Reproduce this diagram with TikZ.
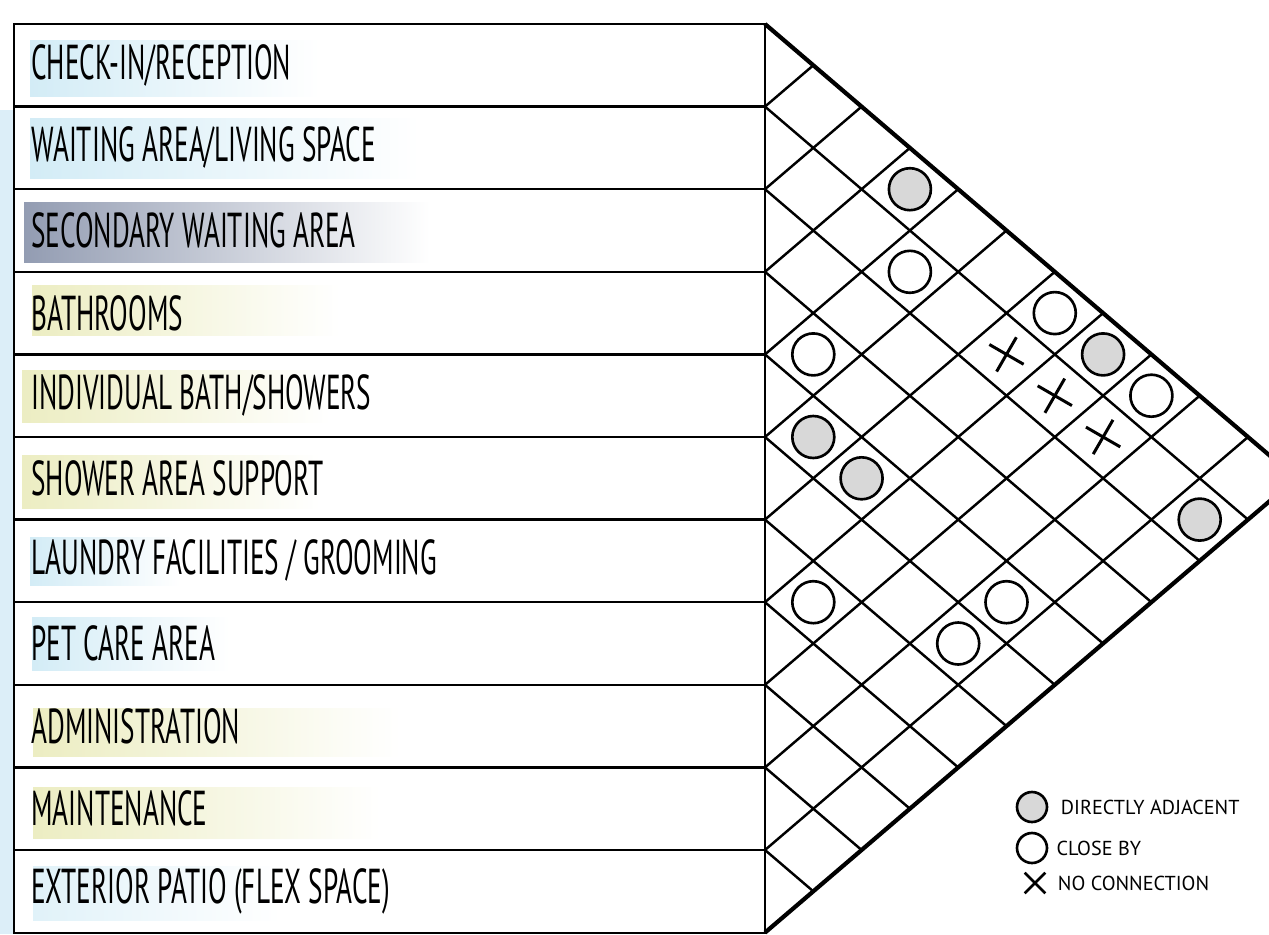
\documentclass[tikz,border=0pt]{standalone}
\usepackage{fontspec}
\setmainfont{PT Sans}
\usepackage{graphicx}
\usepackage{xcolor}
\usepackage{tikz}
\usetikzlibrary{positioning, shapes.misc, calc}
\definecolor{washblue}{HTML}{D3ECF6}
\definecolor{washslate}{HTML}{8D97AE}
\definecolor{washyellow}{HTML}{ECEDC2}
\definecolor{sideblue}{HTML}{DCEEF8}
\definecolor{dotgray}{HTML}{D8D8D8}
\newcommand{\roomname}[1]{\scalebox{1}[1.8]{#1}}

\tikzset{
  rule/.style={line width=1.4pt},
  gridline/.style={line width=1.4pt},
  edgeline/.style={line width=2.4pt},
  roomlabel/.style={anchor=west, inner sep=0pt, font=\fontsize{15.5}{18}\selectfont},
  adjacent/.style={circle, draw, line width=1.5pt, fill=dotgray, minimum size=0.84cm, inner sep=0pt},
  closeby/.style={circle, draw, line width=1.5pt, fill=white, minimum size=0.84cm, inner sep=0pt},
  noconn/.style={cross out, draw, line width=1.7pt, minimum size=0.5cm, inner sep=0pt, rotate=15},
  keytext/.style={inner sep=0pt, font=\fontsize{11.5}{13}\selectfont},
}

\begin{document}
\begin{tikzpicture}[x=0.02cm, y=-0.02cm]
  \useasboundingbox (0,0) rectangle (1269,934);
  \clip (0,0) rectangle (1269,934);

  % watercolour washes
  \fill[sideblue] (0,110) rectangle (14,934);
  \fill[left color=washblue, right color=white] (30,40) rectangle (320,96);
  \fill[left color=washblue, right color=white] (30,118) rectangle (420,178);
  \fill[left color=washslate!95, middle color=washslate!80, right color=white] (24,202) rectangle (430,262);
  \fill[left color=washyellow, right color=white] (32,285) rectangle (340,335);
  \fill[left color=washyellow, right color=white] (22,370) rectangle (330,422);
  \fill[left color=washyellow, right color=white] (22,455) rectangle (320,508);
  \fill[left color=washblue, right color=white] (30,537) rectangle (180,585);
  \fill[left color=washblue, right color=white] (32,617) rectangle (230,670);
  \fill[left color=washyellow, right color=white] (33,708) rectangle (400,756);
  \fill[left color=washyellow, right color=white] (33,787) rectangle (380,838);
  \fill[left color=washblue!70, right color=white] (33,866) rectangle (280,920);

  % list of spaces
  \draw[rule] (14,24) rectangle (765,933);
  \foreach \k in {1,...,10}
    \draw[rule] (14,{24+82.6*\k}) -- (765,{24+82.6*\k});
  \foreach \txt [count=\i from 0] in {{CHECK-IN/RECEPTION}, {WAITING AREA/LIVING SPACE},
      {SECONDARY WAITING AREA}, {BATHROOMS}, {INDIVIDUAL BATH/SHOWERS},
      {SHOWER AREA SUPPORT}, {LAUNDRY FACILITIES / GROOMING}, {PET CARE AREA},
      {ADMINISTRATION}, {MAINTENANCE}, {EXTERIOR PATIO (FLEX SPACE)}}
    \node[roomlabel] (room\i) at (31,{65.3+82.6*\i}) {\roomname{\txt}};

  % adjacency grid
  \foreach \k in {0,...,11}
    \coordinate (b\k) at (765,{24+82.6*\k});
  \foreach \k in {1,...,10} {
    \draw[gridline] (b\k) -- ++({(11-\k)*48.3},{(11-\k)*41.3});
    \draw[gridline] (b\k) -- ++({\k*48.3},{-\k*41.3});
  }
  \coordinate (tip) at (1296.3,478.3);
  \draw[edgeline] (b0) -- (tip) -- (b11);

  % marks
  \foreach \a/\b in {0/3, 0/7, 4/5, 4/6, 1/10}
    \node[adjacent] (adj\a-\b) at ({765+48.3*(\b-\a)},{24+41.3*(\a+\b+1)}) {};
  \foreach \a/\b in {0/6, 0/8, 1/4, 3/4, 6/7, 4/9, 5/9}
    \node[closeby] (near\a-\b) at ({765+48.3*(\b-\a)},{24+41.3*(\a+\b+1)}) {};
  \foreach \a/\b in {1/6, 1/7, 1/8}
    \node[noconn] (none\a-\b) at ({765+48.3*(\b-\a)},{24+41.3*(\a+\b+1)}) {};

  % key
  \node[adjacent, minimum size=0.6cm] (keyadj) at (1032,807) {};
  \node[keytext, right=7pt of keyadj] (keyadjtext) {DIRECTLY ADJACENT};
  \node[closeby, minimum size=0.6cm] (keynear) at (1032,848) {};
  \node[keytext, right=4.5pt of keynear] (keyneartext) {CLOSE BY};
  \node[cross out, draw, line width=1.5pt, minimum size=0.36cm, inner sep=0pt] (keynone) at (1035,883) {};
  \node[keytext, right=7pt of keynone] (keynonetext) {NO CONNECTION};
\end{tikzpicture}
\end{document}
